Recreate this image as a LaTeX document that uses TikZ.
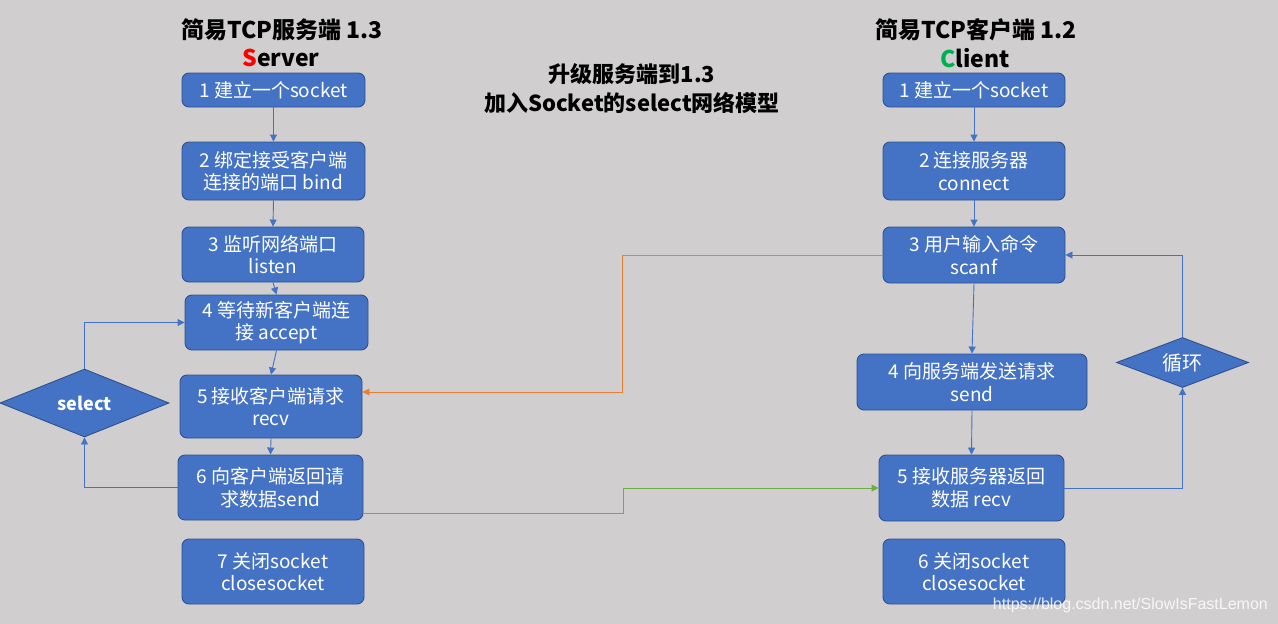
\documentclass[tikz,border=0pt]{standalone}
\usepackage{fontspec}
\setmainfont{Noto Sans CJK SC}
\newfontfamily\wmfont{Liberation Sans}
\usetikzlibrary{shapes.geometric,arrows.meta}
\definecolor{bg}{HTML}{D0CECE}
\definecolor{boxfill}{HTML}{4472C4}
\definecolor{boxline}{HTML}{2F528F}
\definecolor{orangeline}{HTML}{ED7D31}
\definecolor{greenline}{HTML}{70AD47}
\definecolor{cgreen}{HTML}{00B050}
\begin{document}
\begin{tikzpicture}[x=1pt,y=-1pt,
  box/.style={draw=boxline, fill=boxfill, line width=0.9pt, rounded corners=7pt,
    text=white, inner sep=0pt, align=center, font=\fontsize{19}{22.5}\selectfont},
  dia/.style={diamond, aspect=2.5, draw=boxline, fill=boxfill, line width=0.9pt,
    text=white, inner sep=0pt, font=\fontsize{20}{22}\selectfont},
  conn/.style={draw=boxfill, line width=0.9pt, -{Triangle[length=7pt,width=7pt]}},
  oconn/.style={draw=orangeline, line width=0.9pt, -{Triangle[length=7pt,width=7pt]}},
  gconn/.style={draw=greenline, line width=0.9pt, -{Triangle[length=7pt,width=7pt]}},
  title/.style={font=\fontsize{23}{27}\selectfont\bfseries, inner sep=0pt},
  midtitle/.style={font=\fontsize{22}{26}\selectfont\bfseries, inner sep=0pt}
]
\fill[bg] (0,0) rectangle (1278,624);
\useasboundingbox (0,0) rectangle (1278,624);

% titles
\node[title] (ts) at (282,30) {简易TCP服务端 1.3};
\node[title] (tsv) at (281,58) {\textcolor{red}{S}erver};
\node[title] (tc) at (976,30) {简易TCP客户端 1.2};
\node[title] (tcl) at (975,58) {\textcolor{cgreen}{C}lient};
\node[midtitle] (m1) at (632,74) {升级服务端到1.3};
\node[midtitle] (m2) at (632,103) {加入Socket的select网络模型};

% server boxes
\node[box, minimum width=183pt, minimum height=34pt] (s1) at (273.5,90) {1 建立一个socket};
\node[box, minimum width=183pt, minimum height=58pt] (s2) at (273.5,171) {2 绑定接受客户端\\连接的端口 bind};
\node[box, minimum width=182pt, minimum height=55pt] (s3) at (273,254.5) {3 监听网络端口\\listen};
\node[box, minimum width=183pt, minimum height=55pt] (s4) at (276.5,322.5) {4 等待新客户端连\\接 accept};
\node[box, minimum width=182pt, minimum height=63pt] (s5) at (271,406.5) {5 接收客户端请求\\recv};
\node[box, minimum width=185pt, minimum height=65pt] (s6) at (270.5,487.5) {6 向客户端返回请\\求数据send};
\node[box, minimum width=182pt, minimum height=65pt] (s7) at (273,571.5) {7 关闭socket\\closesocket};
\node[dia, minimum width=169pt, minimum height=68pt, font=\fontsize{18}{22}\selectfont\bfseries] (sel) at (84.5,403) {select};

% client boxes
\node[box, minimum width=182pt, minimum height=34pt] (c1) at (974,90) {1 建立一个socket};
\node[box, minimum width=182pt, minimum height=58pt] (c2) at (974,171) {2 连接服务器\\connect};
\node[box, minimum width=182pt, minimum height=56pt] (c3) at (974,255) {3 用户输入命令\\scanf};
\node[box, minimum width=230pt, minimum height=56pt] (c4) at (972,382) {4 向服务端发送请求\\send};
\node[box, minimum width=185pt, minimum height=66pt] (c5) at (971.5,488) {5 接收服务器返回\\数据 recv};
\node[box, minimum width=182pt, minimum height=65pt] (c6) at (974,571.5) {6 关闭socket\\closesocket};
\node[dia, minimum width=132pt, minimum height=50pt] (loop) at (1182.5,362.5) {循环};

% server connectors
\draw[conn] (s1.south) -- (s2.north);
\draw[conn] (s2.south) -- (s3.north);
\draw[conn] (s3.south) -- (s4.north);
\draw[conn] (s4.south) -- (s5.north);
\draw[conn] (s5.south) -- (s6.north);
\draw[conn] (s6.west) -| (sel.south);
\draw[conn] (sel.north) |- (s4.west);

% client connectors
\draw[conn] (c1.south) -- (c2.north);
\draw[conn] (c2.south) -- (c3.north);
\draw[conn] (c3.south) -- (c4.north);
\draw[conn] (c4.south) -- (c5.north);
\draw[conn] (c5.east) -| (loop.south);
\draw[conn] (loop.north) |- (c3.east);

% cross connectors
\draw[oconn] (c3.west) -- ++(-260,0) |- ([yshift=14.5pt]s5.east);
\draw[gconn] ([yshift=-25.5pt]s6.east) -- ++(260,0) |- (c5.west);

% watermark
\node[font=\wmfont\fontsize{16}{18}\selectfont, text=white, opacity=0.85, anchor=east, inner sep=0pt] (wm) at (1268,605) {https://blog.csdn.net/SlowIsFastLemon};
\end{tikzpicture}
\end{document}
